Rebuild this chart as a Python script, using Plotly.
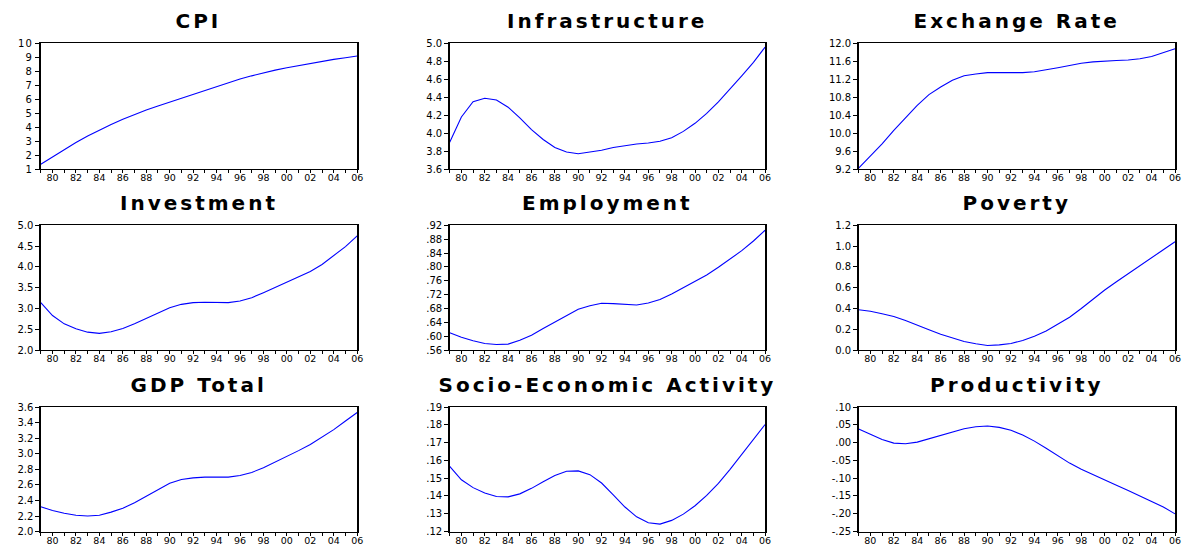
import plotly.graph_objects as go

years = list(range(1979, 2007))

cpi = [1.35, 1.88, 2.40, 2.90, 3.37, 3.80, 4.20, 4.57, 4.92, 5.24, 5.52, 5.80, 6.09, 6.38,
       6.66, 6.93, 7.20, 7.45, 7.68, 7.90, 8.09, 8.26, 8.42, 8.57, 8.72, 8.86, 8.98, 9.10]
infrastructure = [3.90, 4.18, 4.35, 4.39, 4.37, 4.29, 4.17, 4.04, 3.93, 3.84, 3.79, 3.77, 3.79, 3.81,
                  3.84, 3.86, 3.88, 3.89, 3.91, 3.95, 4.02, 4.11, 4.22, 4.35, 4.49, 4.64, 4.79, 4.96]
exchange_rate = [9.22, 9.48, 9.76, 10.06, 10.34, 10.62, 10.86, 11.03, 11.18, 11.28, 11.32, 11.35, 11.35, 11.35,
                 11.35, 11.37, 11.41, 11.46, 11.51, 11.56, 11.59, 11.61, 11.62, 11.63, 11.66, 11.71, 11.80, 11.88]
investment = [3.14, 2.83, 2.63, 2.51, 2.43, 2.40, 2.44, 2.52, 2.63, 2.76, 2.88, 3.02, 3.10, 3.14,
              3.15, 3.14, 3.14, 3.18, 3.26, 3.38, 3.51, 3.63, 3.76, 3.89, 4.06, 4.27, 4.49, 4.75]
employment = [0.610, 0.597, 0.587, 0.579, 0.576, 0.577, 0.588, 0.603, 0.622, 0.641, 0.660, 0.678, 0.688, 0.695,
              0.694, 0.692, 0.690, 0.696, 0.706, 0.722, 0.740, 0.757, 0.777, 0.799, 0.823, 0.847, 0.875, 0.906]
poverty = [0.388, 0.373, 0.350, 0.322, 0.284, 0.243, 0.196, 0.152, 0.114, 0.082, 0.060, 0.044, 0.050, 0.063,
           0.092, 0.133, 0.183, 0.246, 0.316, 0.400, 0.490, 0.578, 0.657, 0.736, 0.810, 0.887, 0.966, 1.042]
gdp_total = [2.32, 2.27, 2.235, 2.21, 2.20, 2.21, 2.25, 2.30, 2.37, 2.45, 2.54, 2.62, 2.67, 2.69,
             2.70, 2.70, 2.70, 2.72, 2.76, 2.82, 2.89, 2.96, 3.04, 3.12, 3.21, 3.31, 3.42, 3.53]
socio_economic = [0.1567, 0.1491, 0.1447, 0.1417, 0.1397, 0.1395, 0.1412, 0.1443, 0.1480, 0.1515, 0.1539, 0.1541,
                  0.1520, 0.1473, 0.1406, 0.1338, 0.1283, 0.1250, 0.1242, 0.1263, 0.1298, 0.1345, 0.1403,
                  0.1471, 0.1550, 0.1635, 0.1719, 0.1802]
productivity = [0.038, 0.0236, 0.0088, -0.0013, -0.0031, 0.0015, 0.0107, 0.0208, 0.031, 0.0392, 0.0448, 0.0466,
                0.0429, 0.0346, 0.0217, 0.0042, -0.016, -0.0372, -0.0575, -0.075, -0.0906, -0.1053, -0.12,
                -0.1348, -0.1495, -0.1652, -0.1808, -0.2002]

titles = ["CPI", "Infrastructure", "Exchange Rate", "Investment", "Employment", "Poverty",
          "GDP Total", "Socio-Economic Activity", "Productivity"]

x_tick_vals = list(range(1980, 2007, 2))
x_tick_text = ["80", "82", "84", "86", "88", "90", "92", "94", "96", "98", "00", "02", "04", "06"]

cpi_ticks = [1, 2, 3, 4, 5, 6, 7, 8, 9, 10]
cpi_labels = ["1", "2", "3", "4", "5", "6", "7", "8", "9", "10"]
infra_ticks = [3.6, 3.8, 4.0, 4.2, 4.4, 4.6, 4.8, 5.0]
infra_labels = ["3.6", "3.8", "4.0", "4.2", "4.4", "4.6", "4.8", "5.0"]
exch_ticks = [9.2, 9.6, 10.0, 10.4, 10.8, 11.2, 11.6, 12.0]
exch_labels = ["9.2", "9.6", "10.0", "10.4", "10.8", "11.2", "11.6", "12.0"]
inv_ticks = [2.0, 2.5, 3.0, 3.5, 4.0, 4.5, 5.0]
inv_labels = ["2.0", "2.5", "3.0", "3.5", "4.0", "4.5", "5.0"]
emp_ticks = [0.56, 0.60, 0.64, 0.68, 0.72, 0.76, 0.80, 0.84, 0.88, 0.92]
emp_labels = [".56", ".60", ".64", ".68", ".72", ".76", ".80", ".84", ".88", ".92"]
pov_ticks = [0.0, 0.2, 0.4, 0.6, 0.8, 1.0, 1.2]
pov_labels = ["0.0", "0.2", "0.4", "0.6", "0.8", "1.0", "1.2"]
gdp_ticks = [2.0, 2.2, 2.4, 2.6, 2.8, 3.0, 3.2, 3.4, 3.6]
gdp_labels = ["2.0", "2.2", "2.4", "2.6", "2.8", "3.0", "3.2", "3.4", "3.6"]
soc_ticks = [0.12, 0.13, 0.14, 0.15, 0.16, 0.17, 0.18, 0.19]
soc_labels = [".12", ".13", ".14", ".15", ".16", ".17", ".18", ".19"]
prod_ticks = [-0.25, -0.20, -0.15, -0.10, -0.05, 0.00, 0.05, 0.10]
prod_labels = ["-.25", "-.20", "-.15", "-.10", "-.05", ".00", ".05", ".10"]

series = [cpi, infrastructure, exchange_rate, investment, employment, poverty,
          gdp_total, socio_economic, productivity]
yticks = [(cpi_ticks, cpi_labels), (infra_ticks, infra_labels), (exch_ticks, exch_labels),
          (inv_ticks, inv_labels), (emp_ticks, emp_labels), (pov_ticks, pov_labels),
          (gdp_ticks, gdp_labels), (soc_ticks, soc_labels), (prod_ticks, prod_labels)]

W, H = 1188, 550
col_px = [(41, 359), (452, 769), (863, 1181)]
row_px = [(38.3, 166.7), (224.3, 351.7), (410, 537.3)]

fig = go.Figure()
ytick_font = dict(family="DejaVu Sans", size=10, color="black")
xtick_font = dict(family="DejaVu Sans", size=9.5, color="black")
annotations = []
for i in range(9):
    r, c = divmod(i, 3)
    n = i + 1
    xa = "x" if n == 1 else f"x{n}"
    ya = "y" if n == 1 else f"y{n}"
    fig.add_trace(go.Scatter(x=years, y=series[i], mode="lines",
                             line=dict(color="#0000FF", width=1.1),
                             xaxis=xa, yaxis=ya, showlegend=False, hoverinfo="skip"))
    x0, x1 = col_px[c]
    t, b = row_px[r]
    xdom = [x0 / W, x1 / W]
    ydom = [1 - b / H, 1 - t / H]
    tv, tt = yticks[i]
    fig.layout[f"xaxis{'' if n == 1 else n}"] = dict(
        domain=xdom, anchor=ya, range=[1979, 2006],
        tickmode="array", tickvals=x_tick_vals, ticktext=x_tick_text,
        ticks="outside", ticklen=3, tickcolor="black", tickfont=xtick_font,
        ticklabelstandoff=-3,
        minor=dict(tickmode="linear", tick0=1979, dtick=1, ticks="outside", ticklen=3,
                   tickcolor="black", showgrid=False),
        showline=True, linecolor="black", linewidth=1, mirror=True,
        showgrid=False, zeroline=False, fixedrange=True)
    fig.layout[f"yaxis{'' if n == 1 else n}"] = dict(
        domain=ydom, anchor=xa, range=[tv[0], tv[-1]],
        tickmode="array", tickvals=tv, ticktext=tt,
        ticks="outside", ticklen=4, tickcolor="black", tickfont=ytick_font,
        showline=True, linecolor="black", linewidth=1.5, mirror=True,
        showgrid=False, zeroline=False, fixedrange=True)
    annotations.append(dict(text=f"<b>{titles[i]}</b>", x=(x0 + x1) / 2 / W, y=1 - (t - 23) / H,
                            xref="paper", yref="paper", showarrow=False,
                            xanchor="center", yanchor="middle",
                            font=dict(family="DejaVu Sans", size=20, color="black")))

fig.update_layout(width=W, height=H, margin=dict(l=0, r=0, t=0, b=0),
                  paper_bgcolor="white", plot_bgcolor="white",
                  annotations=annotations, showlegend=False, hovermode=False)

post = """
var fixStyle = function(){
  document.documentElement.style.margin='0';
  document.documentElement.style.overflow='hidden';
  document.body.style.margin='0';
  document.body.style.padding='0';
  document.body.style.overflow='hidden';
  var gd = document.getElementById('{plot_id}');
  if (gd) { gd.style.position='fixed'; gd.style.top='0px'; gd.style.left='0px'; }
  document.querySelectorAll('.annotation-text').forEach(function(e){e.style.letterSpacing='3px';});
  document.querySelectorAll('.ytick text').forEach(function(e){e.style.letterSpacing='1.3px';});
};
fixStyle();
setTimeout(fixStyle, 30);
setTimeout(fixStyle, 300);
"""

fig.write_html("out.html", post_script=post, config={"displayModeBar": False, "staticPlot": True})
